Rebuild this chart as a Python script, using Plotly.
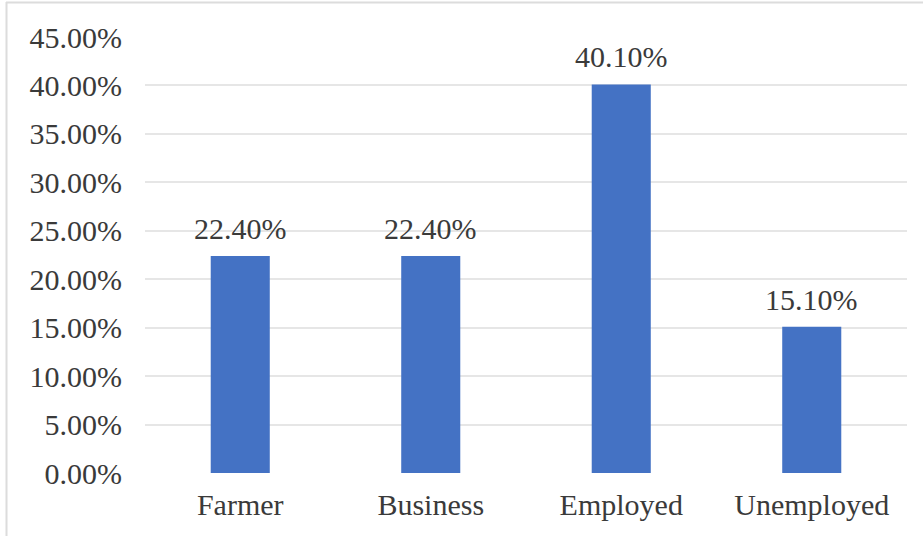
import plotly.graph_objects as go

# Occupation distribution
categories = ["Farmer", "Business", "Employed", "Unemployed"]
shares = [22.40, 22.40, 40.10, 15.10]
y_ticks = [0, 5, 10, 15, 20, 25, 30, 35, 40, 45]
y_tick_labels = [f"{v:.2f}%" for v in y_ticks]

FONT = "Liberation Serif, Times New Roman, serif"
FONT_SIZE = 30
BAR_COLOR = "#4472c4"
TEXT_COLOR = "#3a3a3a"

fig = go.Figure(
    go.Bar(
        x=categories,
        y=shares,
        marker=dict(color=BAR_COLOR, line=dict(width=0)),
        width=0.31,
        hoverinfo="skip",
    )
)

# Value labels above each bar
for cat, val in zip(categories, shares):
    fig.add_annotation(
        x=cat, y=val, text=f"{val:.2f}%",
        showarrow=False, yanchor="bottom", yshift=9,
        font=dict(family=FONT, size=FONT_SIZE, color=TEXT_COLOR),
    )

W, H = 923, 536
L, R, T, B = 145, 16, 37, 63
pw, ph = W - L - R, H - T - B

def px_to_paper_x(px):
    return (px - L) / pw

def px_to_paper_y(py):
    return (H - B - py) / ph

# Thin frame lines along the top and left edges of the figure
fig.add_shape(type="line", xref="paper", yref="paper",
              x0=px_to_paper_x(6), x1=px_to_paper_x(923),
              y0=px_to_paper_y(2.5), y1=px_to_paper_y(2.5),
              line=dict(color="#dcdcdc", width=2))
fig.add_shape(type="line", xref="paper", yref="paper",
              x0=px_to_paper_x(6.5), x1=px_to_paper_x(6.5),
              y0=px_to_paper_y(2), y1=px_to_paper_y(536),
              line=dict(color="#dcdcdc", width=2))

fig.update_layout(
    width=W, height=H,
    margin=dict(l=L, r=R, t=T, b=B),
    paper_bgcolor="white",
    plot_bgcolor="white",
    showlegend=False,
    font=dict(family=FONT, size=FONT_SIZE, color=TEXT_COLOR),
    xaxis=dict(
        showgrid=False, showline=False, zeroline=False,
        ticks="", ticklabelstandoff=11,
        tickfont=dict(family=FONT, size=FONT_SIZE, color=TEXT_COLOR),
    ),
    yaxis=dict(
        range=[0, 45],
        tickvals=y_ticks, ticktext=y_tick_labels,
        showgrid=True, gridcolor="#e6e6e6", gridwidth=1.5,
        zeroline=False, showline=False, ticks="",
        ticklabelstandoff=22,
        tickfont=dict(family=FONT, size=FONT_SIZE, color=TEXT_COLOR),
    ),
)

fig.write_html("out.html")
